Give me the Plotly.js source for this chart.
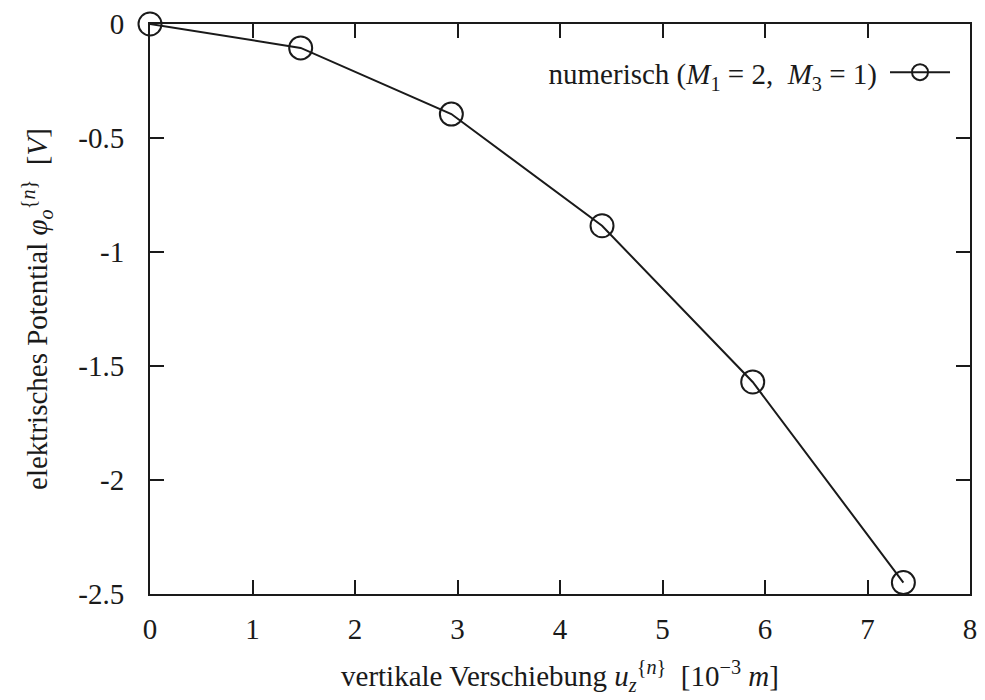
<!DOCTYPE html>
<html>
<head>
<meta charset="utf-8">
<script src="https://cdn.plot.ly/plotly-3.0.1.min.js"></script>
<style>html,body{margin:0;padding:0;background:#fff;}</style>
</head>
<body>
<div id="chart" style="width:985px;height:700px;"></div>
<script>
const displacement = [0, 1.47, 2.94, 4.41, 5.88, 7.35];
const potential = [0, -0.105, -0.395, -0.885, -1.57, -2.45];
const xTickVals = [0, 1, 2, 3, 4, 5, 6, 7, 8];
const xTickText = ["0", "1", "2", "3", "4", "5", "6", "7", "8"];
const yTickVals = [0, -0.5, -1, -1.5, -2, -2.5];
const yTickText = ["0", "-0.5", "-1", "-1.5", "-2", "-2.5"];
const legendLabel = "numerisch (<i>M</i><sub>1</sub> = 2,  <i>M</i><sub>3</sub> = 1)";
const xTitle = "vertikale Verschiebung <i>u</i><sub><i>z</i></sub><sup>{<i>n</i>}</sup>  [10<sup>\u22123</sup> <i>m</i>]";
const yTitle = "elektrisches Potential <i>\u03C6</i><sub><i>o</i></sub><sup>{<i>n</i>}</sup>  [<i>V</i>]";

const font = "Liberation Serif, DejaVu Serif, serif";
const ink = "#1a1a1a";
const fs = 29;

const trace = {
  x: displacement,
  y: potential,
  type: "scatter",
  mode: "lines+markers",
  name: " ",
  line: {color: ink, width: 2},
  marker: {symbol: "circle-open", size: 23, color: ink, line: {width: 2, color: ink}},
  cliponaxis: false,
  showlegend: true
};

const axisCommon = {
  showgrid: false,
  zeroline: false,
  showline: true,
  mirror: "ticks",
  linecolor: ink,
  linewidth: 2,
  ticks: "inside",
  ticklen: 14,
  tickwidth: 2,
  tickcolor: ink,
  tickmode: "array",
  tickfont: {family: font, size: fs, color: ink}
};

const layout = {
  width: 985,
  height: 700,
  margin: {l: 150, r: 15, t: 24, b: 106},
  paper_bgcolor: "#fff",
  plot_bgcolor: "#fff",
  font: {family: font, color: ink},
  xaxis: Object.assign({}, axisCommon, {
    range: [0, 8],
    tickvals: xTickVals,
    ticktext: xTickText,
    ticklabelstandoff: 8,
    title: {text: xTitle, font: {family: font, size: fs, color: ink}, standoff: 22}
  }),
  yaxis: Object.assign({}, axisCommon, {
    range: [-2.5, 0],
    tickvals: yTickVals,
    ticktext: yTickText,
    ticklabelstandoff: 18,
    title: {text: yTitle, font: {family: font, size: fs, color: ink}, standoff: 22}
  }),
  showlegend: true,
  legend: {
    x: 0.997,
    y: 0.96,
    xanchor: "right",
    yanchor: "top",
    bgcolor: "rgba(0,0,0,0)",
    borderwidth: 0,
    font: {family: font, size: fs, color: ink},
    title: {text: legendLabel, side: "left", font: {family: font, size: fs, color: ink}},
    itemwidth: 60
  }
};

Plotly.newPlot("chart", [trace], layout, {displayModeBar: false, staticPlot: true});
</script>
</body>
</html>
